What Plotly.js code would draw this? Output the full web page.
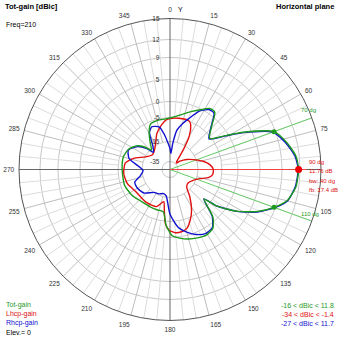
<!DOCTYPE html>
<html><head><meta charset="utf-8">
<script src="https://cdn.plot.ly/plotly-3.0.1.min.js"></script>
<style>html,body{margin:0;padding:0;background:#fff;overflow:hidden}#c{width:339px;height:339px}</style>
</head><body><div id="c"></div>
<script>
// ---- data (degrees, dBic) ----
const totAng = [0,10,20,27,33,38,44,52,59,63,70,77,84,90,98,105,110,116,122,128,131,138,144,151,158,165,172,178,184,189,197,208,217,226,236,251,270,285,296,305,312,316,325,331,337,347,360];
const totDb  = [-5.2,-4.0,-2.0,-0.3,1.1,1.1,-2.5,-5.7,-0.5,3.2,8.76,10.3,11.45,11.76,11.5,10.5,8.76,6.1,2.4,-2.6,-7.8,-1.2,1.1,1.6,1.3,0.9,0.3,-0.5,-3.8,-8.8,-9.0,-9.0,-9.0,-8.5,-7.5,-6.6,-6.7,-6.5,-7.4,-9.5,-12.8,-16,-12.0,-8.7,-6.0,-5.5,-5.2];
const lhcpAng = [0,9,18,22,25,30,34,40,45,50,59,67,76,83,90,97,102,107,115,126,136,144,152,158,164,169,175,181,185,188,191,200,215,225,235,252,265,278,287,297,310,318,327,340,349,356,360];
const lhcpDb  = [-5.4,-5.0,-4.8,-5.0,-6.2,-10.6,-19,-32.6,-34,-30,-23.5,-17.6,-12.4,-9.9,-8.6,-8.75,-10.3,-13.6,-17.4,-20.4,-19,-12.6,-7.5,-4.3,-2.1,-1.5,-1.4,-2.3,-4.4,-9.6,-13.0,-10.2,-9.8,-9.9,-9.8,-7.9,-7.3,-7.8,-10.8,-15.2,-20,-19,-15.7,-10.7,-7.8,-5.8,-5.4];
const rhcpAng = [0,3,6,10,15,20,27,33,38,44,52,59,63,70,77,84,90,98,105,110,116,122,128,131,138,144,151,158,165,172,180,188,195,205,215,228,240,250,258,268,285,295,305,312,316,324,331,337,346,351,356,360];
const rhcpDb  = [-22,-27,-17,-10,-7,-4.4,-0.7,0.8,0.8,-2.8,-6.0,-0.8,2.9,8.5,10.1,11.3,11.7,11.4,10.6,8.9,6.3,2.5,-2.7,-8,-1.5,0.9,1.2,0.5,-1.0,-3.0,-8,-16,-18,-16,-15,-12,-11,-11,-14,-16,-9,-7.5,-10,-13.7,-19,-14.5,-9,-7.3,-8.4,-12,-17,-22];
const ringDb = [15,12,9,5,0,-5,-15,-35];
const angTicks = [0,15,30,45,60,75,90,105,120,135,150,165,180,195,210,225,240,255,270,285,300,315,330,345];
const maxAng = 90, maxDb = 11.76, bwLo = 70, bwHi = 110, bwDb = 8.76;

// ---- display scale (log-like, from the ring spacing) ----
const kDb = [-35,-15,-5,0,5,9,12,15];
const kFr = [0.053,0.185,0.344,0.450,0.596,0.742,0.861,1];
function sc(d){
  if (d<=kDb[0]) return Math.max(0, kFr[0]*(1-(kDb[0]-d)/10));
  for(let i=1;i<kDb.length;i++){ if(d<=kDb[i]){const t=(d-kDb[i-1])/(kDb[i]-kDb[i-1]);return kFr[i-1]+t*(kFr[i]-kFr[i-1]);} }
  return 1;
}
const GREEN='#1e9a1e', RED='#e01010', BLUE='#1010d0';
const traces=[];
const sr=[],st=[],mr=[],mt=[];
for(let a=0;a<360;a+=5){
  if(a%90===0) continue;
  if(a%15===0){ mr.push(sc(-15),1,null); mt.push(a,a,null);} else { sr.push(sc(-5),1,null); st.push(a,a,null);} }
traces.push({type:'scatterpolar',mode:'lines',r:sr,theta:st,line:{color:'#dcdcdc',width:1},hoverinfo:'skip',connectgaps:false});
traces.push({type:'scatterpolar',mode:'lines',r:mr,theta:mt,line:{color:'#bdbdbd',width:1},hoverinfo:'skip',connectgaps:false});
traces.push({type:'scatterpolar',mode:'lines',r:[1,0,1,null,1,0,1],theta:[0,0,180,null,90,90,270],line:{color:'#666',width:1},hoverinfo:'skip',connectgaps:false});
traces.push({type:'scatterpolar',mode:'lines',r:[1,0,1],theta:[bwLo,0,bwHi],line:{color:'#66cc66',width:1},hoverinfo:'skip'});
traces.push({type:'scatterpolar',mode:'lines',r:[0,0.905],theta:[maxAng,maxAng],line:{color:'#ee4444',width:1},hoverinfo:'skip'});
const ln=c=>({color:c,width:1.4,shape:'spline',smoothing:0.6});
traces.push({type:'scatterpolar',mode:'lines',r:lhcpDb.map(sc),theta:lhcpAng,line:ln(RED),name:'Lhcp-gain'});
traces.push({type:'scatterpolar',mode:'lines',r:rhcpDb.map(sc),theta:rhcpAng,line:ln(BLUE),name:'Rhcp-gain'});
traces.push({type:'scatterpolar',mode:'lines',r:totDb.map(sc),theta:totAng,line:ln(GREEN),name:'Tot-gain'});
traces.push({type:'scatterpolar',mode:'markers',r:[sc(bwDb),sc(bwDb)],theta:[bwLo,bwHi],marker:{color:GREEN,size:5}});
traces.push({type:'scatterpolar',mode:'markers',r:[sc(maxDb)],theta:[maxAng],marker:{color:'#ee0000',size:7}});

const W=339;
const px=x=>x/W, py=y=>1-y/W;
const FONT='Liberation Sans, Arial, sans-serif';
function ann(t,x,y,col,anchor,size,bold){return {text:bold?'<b>'+t+'</b>':t,x:px(x),y:py(y),xref:'paper',yref:'paper',showarrow:false,xanchor:anchor||'left',yanchor:'middle',font:{family:FONT,size:size||7,color:col||'#000'}};}
const annotations=[
  ann('Tot-gain [dBic]',3,7,'#000','left',7.5,true),
  ann('Freq=210',4,25,'#000','left',7),
  ann('Horizontal plane',336,7,'#000','right',7.5,true),
  ann('Y',176,10,'#000','left',7),
  ann('Tot-gain',4,305,GREEN,'left',7),
  ann('Lhcp-gain',4,314,RED,'left',7),
  ann('Rhcp-gain',4,323,BLUE,'left',7),
  ann('Elev.= 0',4,332,'#000','left',7),
  ann('-16 &lt; dBic &lt; 11.8',336,305,GREEN,'right',7),
  ann('-34 &lt; dBic &lt; -1.4',336,314,RED,'right',7),
  ann('-27 &lt; dBic &lt; 11.7',336,323,BLUE,'right',7),
  ann('90 dg',307,162,RED,'left',6),
  ann('11.76 dB',307,171,RED,'left',6),
  ann('bw: 40 dg',307,181,RED,'left',6),
  ann('fb: 17.4 dB',307,190,RED,'left',6),
  ann('70 dg',299,110,GREEN,'left',6),
  ann('110 dg',299,214,GREEN,'left',6)
];
const pad='&nbsp;&nbsp;&nbsp;&nbsp;&nbsp;';
const layout={width:339,height:339,margin:{l:0,r:0,t:0,b:0},paper_bgcolor:'#fff',showlegend:false,
  font:{family:FONT,size:7,color:'#222'},
  polar:{domain:{x:[19/W,321/W],y:[1-321/W,1-18/W]},bgcolor:'#fff',
    angularaxis:{rotation:90,direction:'clockwise',tickmode:'array',tickvals:angTicks,ticktext:angTicks.map(a=>a===90?'':String(a)),showgrid:false,showline:true,linecolor:'#555',linewidth:1,ticks:'outside',ticklen:3,tickcolor:'rgba(0,0,0,0)',tickfont:{size:6.5,color:'#333'}},
    radialaxis:{range:[0,1],angle:90,side:'counterclockwise',tickangle:90,tickmode:'array',tickvals:ringDb.map(sc),ticktext:ringDb.map(v=>String(v)+pad),showline:false,gridcolor:'#c8c8c8',ticks:'',tickfont:{size:6.5,color:'#333'}}
  },
  annotations:annotations};
Plotly.newPlot('c',traces,layout,{staticPlot:true,displayModeBar:false});
</script></body></html>
